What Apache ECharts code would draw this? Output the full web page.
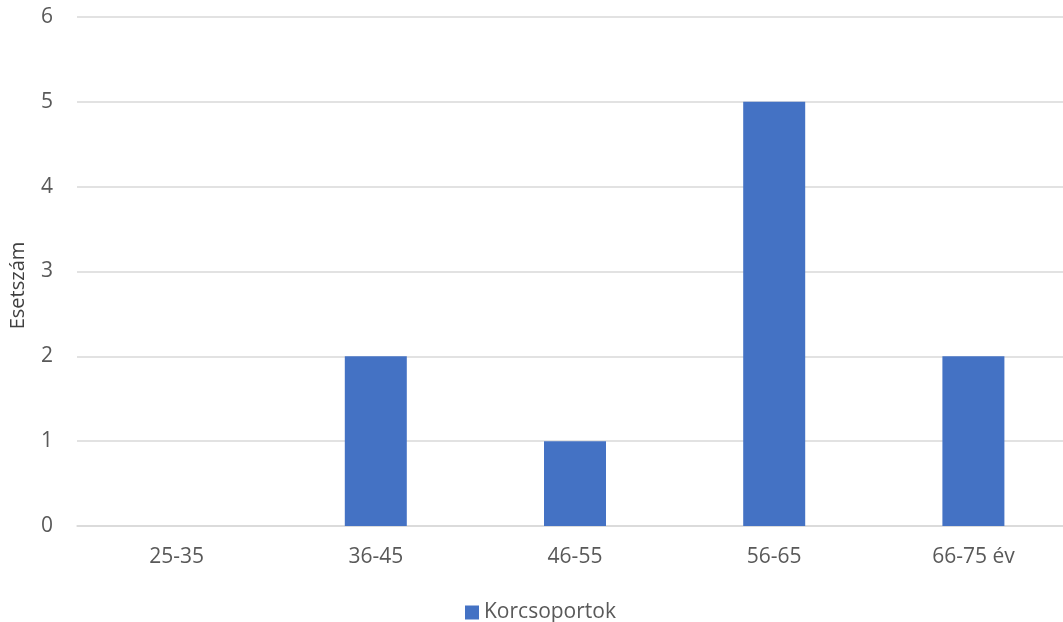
<!DOCTYPE html>
<html>
<head>
<meta charset="utf-8">
<script src="https://cdn.jsdelivr.net/npm/echarts@6/dist/echarts.min.js"></script>
<style>
  html, body { margin: 0; padding: 0; background: #fff; }
</style>
</head>
<body>
<!-- chart container -->
<div id="myChart" style="width: 1063px; height: 622px;"></div>
<script>
// categories (age groups)
var categories = ['25-35', '36-45', '46-55', '56-65', '66-75 év'];
// case counts
var counts = [0, 2, 1, 5, 2];
var seriesName = 'Korcsoportok';
var yAxisName = 'Esetszám';

var chart = echarts.init(document.getElementById('myChart'));
var font = '"Open Sans", "Liberation Sans", sans-serif';

var option = {
  animation: false,
  textStyle: { fontFamily: font },
  grid: {
    left: 77,
    top: 17,
    width: 996,
    height: 509,
    containLabel: false,
    outerBoundsMode: 'none'
  },
  legend: {
    top: 597,
    left: 460,
    icon: 'rect',
    itemWidth: 14,
    itemHeight: 14,
    itemGap: 5,
    textStyle: { color: '#595959', fontSize: 21, fontFamily: font },
    data: [seriesName]
  },
  xAxis: {
    type: 'category',
    data: categories,
    axisLine: { lineStyle: { color: '#D9D9D9', width: 1.5 } },
    axisTick: { show: false },
    axisLabel: { color: '#595959', fontSize: 21, margin: 21, fontFamily: font }
  },
  yAxis: {
    type: 'value',
    min: 0,
    max: 6,
    interval: 1,
    name: yAxisName,
    nameLocation: 'middle',
    nameGap: 49,
    nameRotate: 90,
    nameTextStyle: { color: '#404040', fontSize: 20, fontFamily: font, padding: [0, 28, 0, 0] },
    axisLine: { show: false },
    axisTick: { show: false },
    axisLabel: { color: '#595959', fontSize: 21, margin: 24, fontFamily: font },
    splitLine: { lineStyle: { color: '#D9D9D9', width: 1.5 } }
  },
  series: [
    {
      name: seriesName,
      type: 'bar',
      data: counts,
      barWidth: 62,
      itemStyle: { color: '#4472C4' }
    }
  ]
};
option && chart.setOption(option);
</script>
</body>
</html>
